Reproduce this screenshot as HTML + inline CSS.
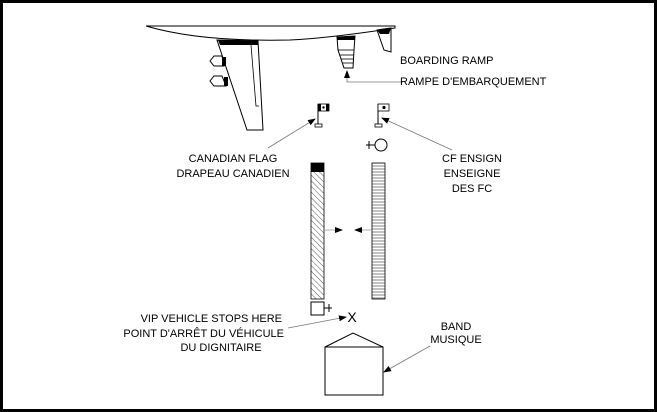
<!DOCTYPE html>
<html><head><style>
body{margin:0;background:#fff}
svg{display:block}
text{font-family:"Liberation Sans",Arial,sans-serif;font-size:11px;fill:#000}
</style></head><body>
<svg width="657" height="412" viewBox="0 0 657 412" xmlns="http://www.w3.org/2000/svg">
<defs>
<pattern id="hatch" width="4" height="4" patternUnits="userSpaceOnUse" patternTransform="rotate(-45)">
<line x1="0" y1="0" x2="0" y2="4" stroke="#555" stroke-width="1"/></pattern>
<pattern id="hl" width="4" height="3" patternUnits="userSpaceOnUse">
<line x1="0" y1="1" x2="4" y2="1" stroke="#666" stroke-width="0.8"/></pattern>
<marker id="ah" markerWidth="8" markerHeight="6" refX="7" refY="3" orient="auto" markerUnits="userSpaceOnUse"><path d="M0,0 L8,3 L0,6 z" fill="#000"/></marker>
</defs>
<rect x="1.5" y="1.5" width="654" height="409" fill="none" stroke="#000" stroke-width="3"/>
<path d="M146,26 L395,26 L395,28 Q330,38 290,40 Q200,42 146,26 z" fill="#fff" stroke="#000" stroke-width="1"/>
<path d="M217,40 L258,41 L263,130 L247,130 Z" fill="#fff" stroke="#000"/>
<path d="M218,40 L258,41 L258,45 L220,45 Z" fill="#000"/>
<path d="M251,45 L256,106 L259,106" fill="none" stroke="#000" stroke-width="0.8"/>
<path d="M222,56 L214,56 L210,61 L214,66 L224,66 Z" fill="#fff" stroke="#000"/>
<path d="M222,76 L214,76 L210,81 L214,86 L226,86 Z" fill="#fff" stroke="#000"/>
<rect x="222" y="57" width="4" height="9" fill="#000"/>
<rect x="224" y="77" width="4" height="9" fill="#000"/>
<path d="M337,37 L355,36 L354,50 L353,68 L344,68 L338,50 Z" fill="#fff" stroke="#000"/>
<path d="M337,37 L355,36 L355,40 L337,40 Z" fill="#000"/>
<g stroke="#000" stroke-width="0.8"><line x1="338" y1="50" x2="354" y2="50"/><line x1="340" y1="55" x2="354" y2="55"/><line x1="341" y1="59" x2="353" y2="59"/><line x1="342" y1="63" x2="353" y2="63"/></g>
<path d="M377,30 L391,28 L391,52 L384,50 Z" fill="#fff" stroke="#000"/>
<path d="M377,30 L391,28 L389,34 L380,34 Z" fill="#000"/>
<path d="M403,82 L347,82 L347,71" fill="none" stroke="#777" stroke-width="0.8" marker-end="url(#ah)"/>
<text x="400" y="64">BOARDING RAMP</text>
<text x="400" y="85">RAMPE D'EMBARQUEMENT</text>
<line x1="318" y1="104" x2="318" y2="124" stroke="#000"/>
<rect x="315" y="124" width="7" height="3" fill="#fff" stroke="#000" stroke-width="0.8"/>
<rect x="318" y="104" width="11" height="7" fill="#fff" stroke="#000" stroke-width="0.8"/>
<rect x="318" y="104" width="3" height="7" fill="#000"/><rect x="326" y="104" width="3" height="7" fill="#000"/>
<circle cx="323.5" cy="107.5" r="1.2" fill="#000"/>
<line x1="378" y1="104" x2="378" y2="124" stroke="#000"/>
<rect x="375" y="124" width="7" height="3" fill="#fff" stroke="#000" stroke-width="0.8"/>
<rect x="378" y="104" width="11" height="7" fill="#fff" stroke="#000" stroke-width="0.8"/>
<circle cx="384" cy="107.5" r="1.6" fill="#000"/>
<line x1="268" y1="148" x2="315" y2="119" stroke="#777" stroke-width="0.8" marker-end="url(#ah)"/>
<line x1="452" y1="150" x2="382" y2="118" stroke="#777" stroke-width="0.8" marker-end="url(#ah)"/>
<text x="233" y="162" text-anchor="middle">CANADIAN FLAG</text>
<text x="233" y="177" text-anchor="middle">DRAPEAU CANADIEN</text>
<text x="472" y="162" text-anchor="middle">CF ENSIGN</text>
<text x="472" y="177" text-anchor="middle">ENSEIGNE</text>
<text x="472" y="192" text-anchor="middle">DES FC</text>
<circle cx="381" cy="145" r="6" fill="#fff" stroke="#000"/>
<line x1="366" y1="145" x2="375" y2="145" stroke="#000"/><line x1="369" y1="141" x2="369" y2="149" stroke="#000"/>
<rect x="311" y="163" width="13" height="136" fill="url(#hatch)" stroke="#000" stroke-width="0.8"/>
<rect x="311" y="163" width="13" height="9" fill="#000"/>
<rect x="372" y="163" width="13" height="136" fill="url(#hl)" stroke="#000" stroke-width="0.8"/>
<line x1="325" y1="230" x2="342" y2="230" stroke="#999" stroke-width="0.8" marker-end="url(#ah)"/>
<line x1="371" y1="230" x2="355" y2="230" stroke="#999" stroke-width="0.8" marker-end="url(#ah)"/>
<rect x="311" y="302" width="13" height="13" fill="#fff" stroke="#000"/>
<line x1="324" y1="308" x2="332" y2="308" stroke="#000"/><line x1="329" y1="304" x2="329" y2="312" stroke="#000"/>
<text x="352" y="322" text-anchor="middle" style="font-size:14px">X</text>
<line x1="288" y1="328" x2="346" y2="317" stroke="#777" stroke-width="0.8" marker-end="url(#ah)"/>
<text x="282" y="322" text-anchor="end">VIP VEHICLE STOPS HERE</text>
<text x="284" y="337" text-anchor="end">POINT D'ARRÊT DU VÉHICULE</text>
<text x="221" y="351" text-anchor="middle">DU DIGNITAIRE</text>
<text x="456" y="330" text-anchor="middle">BAND</text>
<text x="456" y="343" text-anchor="middle">MUSIQUE</text>
<rect x="325" y="347" width="58" height="48" fill="#fff" stroke="#000"/>
<path d="M325,347 L353,333 L383,347" fill="none" stroke="#000"/>
<line x1="430" y1="346" x2="384" y2="372" stroke="#777" stroke-width="0.8" marker-end="url(#ah)"/>
</svg>
</body></html>
